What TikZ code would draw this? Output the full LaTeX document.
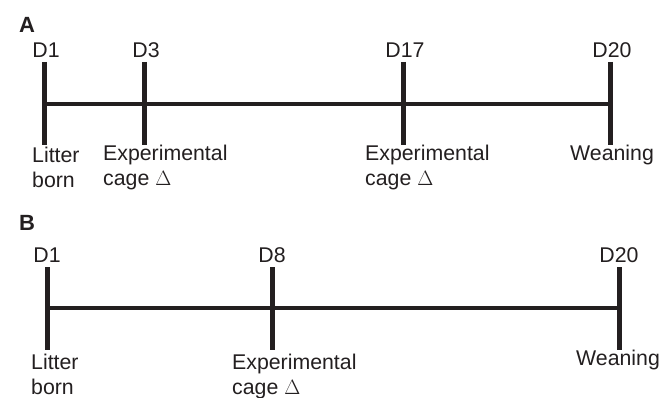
\documentclass[tikz,border=0pt]{standalone}
\usepackage{fontspec}
\setmainfont{Liberation Sans}
\definecolor{ink}{HTML}{231F20}
\begin{document}
\begin{tikzpicture}[x=1pt,y=-1pt,
  tick/.style={line width=5pt,draw=ink},
  axis/.style={line width=4.5pt,draw=ink},
  lbl/.style={inner sep=0pt,text=ink,font=\fontsize{21.3}{25}\selectfont},
  below/.style={lbl,align=left,anchor=north west},
  panel/.style={inner sep=0pt,text=ink,font=\fontsize{22}{25}\selectfont\bfseries}]
\useasboundingbox[fill=white] (0,0) rectangle (660,398);
% Panel A
\node[panel] (pA) at (27,25) {A};
\foreach \n/\x/\d in {a1/44/D1,a2/144/D3,a3/403/D17,a4/610/D20}{
  \coordinate (\n t) at (\x,62);
  \coordinate (\n m) at (\x,104);
  \coordinate (\n b) at (\x,145);
  \node[lbl] (\n l) at (\x+2,50) {\d};
  \draw[tick] (\n t) -- (\n b);
}
\draw[axis] (a1m) -- (a4m);
\node[below] (a1x) at (32,147) {Litter\\born};
\node[below] (a2x) at (103,145) {Experimental\\cage $\Delta$};
\node[below] (a3x) at (365,145) {Experimental\\cage $\Delta$};
\node[below] (a4x) at (570,145) {Weaning};
% Panel B
\node[panel] (pB) at (27,223) {B};
\foreach \n/\x/\d in {b1/47/D1,b2/272/D8,b3/619/D20}{
  \coordinate (\n t) at (\x,267);
  \coordinate (\n m) at (\x,308);
  \coordinate (\n b) at (\x,350);
  \node[lbl] (\n l) at (\x,255) {\d};
  \draw[tick] (\n t) -- (\n b);
}
\draw[axis] (b1m) -- (b3m);
\node[below] (b1x) at (31,354) {Litter\\born};
\node[below] (b2x) at (232,354) {Experimental\\cage $\Delta$};
\node[below] (b3x) at (576,350) {Weaning};
\end{tikzpicture}
\end{document}
